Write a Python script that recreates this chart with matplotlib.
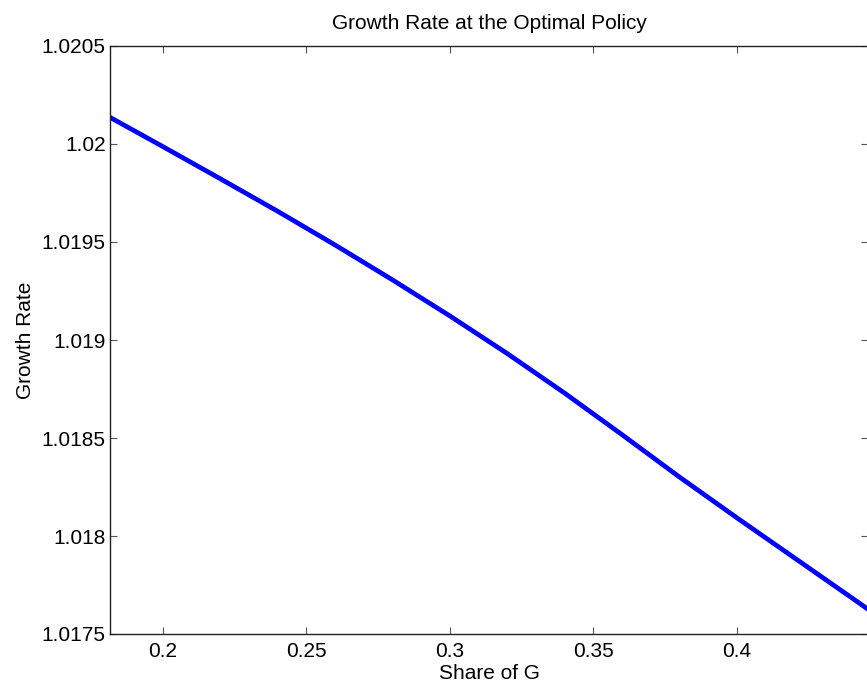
import matplotlib
matplotlib.use('Agg')
import matplotlib.pyplot as plt

share_g = [0.18, 0.20, 0.22, 0.24, 0.26, 0.28, 0.30, 0.32,
           0.34, 0.36, 0.38, 0.40, 0.42, 0.44, 0.46]
growth_rate = [1.020149, 1.019987, 1.019823, 1.019657, 1.019485, 1.019307,
               1.019123, 1.018931, 1.018729, 1.018517, 1.018301, 1.018093,
               1.017889, 1.017685, 1.017479]

x_ticks = [0.2, 0.25, 0.3, 0.35, 0.4]
x_ticklabels = ['0.2', '0.25', '0.3', '0.35', '0.4']
y_ticks = [1.0175, 1.018, 1.0185, 1.019, 1.0195, 1.02, 1.0205]
y_ticklabels = ['1.0175', '1.018', '1.0185', '1.019', '1.0195', '1.02', '1.0205']

plt.rcParams['font.family'] = ['Liberation Sans', 'DejaVu Sans']

fig = plt.figure(figsize=(8.67, 6.87), dpi=100)
ax = fig.add_axes([110 / 867, 1 - 634 / 687, 758 / 867, 588 / 687])

ax.plot(share_g, growth_rate, color='#0000ff', linewidth=3.4)

ax.set_xlim(0.1816, 0.4457)
ax.set_ylim(1.0175, 1.0205)
ax.set_xticks(x_ticks)
ax.set_xticklabels(x_ticklabels)
ax.set_yticks(y_ticks)
ax.set_yticklabels(y_ticklabels)

ax.tick_params(direction='in', length=5, width=0.8, color='#555555',
               labelsize=15, top=True, right=True)
ax.tick_params(axis='x', pad=6)
ax.tick_params(axis='y', pad=3)
for s in ax.spines.values():
    s.set_linewidth(1.0)
    s.set_color('#222222')

ax.set_title('Growth Rate at the Optimal Policy', fontsize=15, pad=12)
ax.set_xlabel('Share of G', fontsize=15, labelpad=2)
ax.set_ylabel('Growth Rate', fontsize=15, labelpad=5)

fig.savefig('out.png', dpi=100)
